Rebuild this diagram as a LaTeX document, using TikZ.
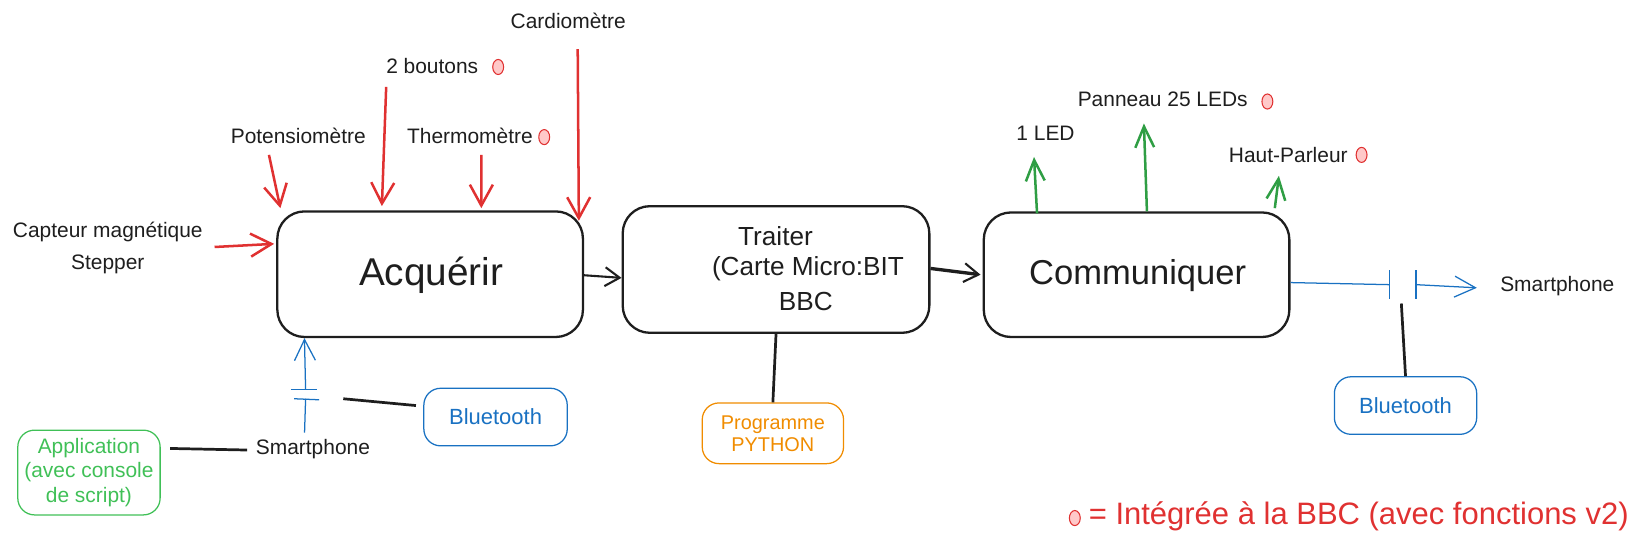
\documentclass[tikz,border=0pt]{standalone}
\usepackage{fontspec}
\setmainfont{Liberation Sans}
\usetikzlibrary{arrows.meta,calc,shapes.geometric}
\definecolor{xred}{HTML}{E03131}
\definecolor{xgreen}{HTML}{2F9E44}
\definecolor{xlgreen}{HTML}{40C057}
\definecolor{xblue}{HTML}{1971C2}
\definecolor{xorange}{HTML}{F08C00}
\definecolor{xpink}{HTML}{FFC9C9}
\definecolor{xink}{HTML}{1E1E1E}
\begin{document}
\begin{tikzpicture}[x=0.5pt,y=-0.5pt,
  bigbox/.style={draw=xink,line width=1.1pt,rounded corners=13pt,minimum width=146pt,minimum height=60pt,inner sep=0pt},
  smallbox/.style={draw,line width=0.6pt,rounded corners=8pt,align=center,inner sep=0pt},
  lbl/.style={font=\fontsize{10}{15}\selectfont,text=xink,inner sep=0pt,align=center},
  bigtxt/.style={font=\fontsize{17.5}{20}\selectfont,text=xink,inner sep=0pt},
  midtxt/.style={font=\fontsize{12.5}{14}\selectfont,text=xink,inner sep=0pt},
  dotmark/.style={ellipse,draw=xred,fill=xpink,line width=0.5pt,minimum width=5.2pt,minimum height=7.2pt,inner sep=0pt},
  redarr/.style={draw=xred,line width=1.2pt,-{Straight Barb[length=10pt,width=11pt,line width=1.2pt]}},
  grnarr/.style={draw=xgreen,line width=1.2pt,-{Straight Barb[length=10pt,width=9pt,line width=1.2pt]}},
  blkarr/.style={draw=xink,line width=1pt,-{Straight Barb[length=7pt,width=9pt,line width=1pt]}},
  bluarr/.style={draw=xblue,line width=0.6pt,-{Straight Barb[length=10pt,width=10pt,line width=0.6pt]}},
  bluline/.style={draw=xblue,line width=0.6pt},
  blkline/.style={draw=xink,line width=1.3pt}
]
\useasboundingbox (0,0) rectangle (1568,520);

% main boxes
\node[bigbox] (acq) at (411,262) {};
\node[bigtxt,font=\fontsize{18.5}{20}\selectfont] (acqt) at (412,263) {Acquérir};
\node[bigbox,minimum width=146.5pt,minimum height=60.5pt] (trt) at (741.5,257.5) {};
\node[midtxt] (trt1) at (741,226) {Traiter};
\node[midtxt] (trt2) at (772,257) {(Carte Micro:BIT};
\node[midtxt] (trt3) at (770,288) {BBC};
\node[bigbox,minimum height=59.5pt] (com) at (1086,262.5) {};
\node[bigtxt,font=\fontsize{16.5}{20}\selectfont] (comt) at (1087,263) {Communiquer};

% inputs
\node[lbl] (cardio) at (543,20) {Cardiomètre};
\coordinate (cardioS) at (552,47);
\draw[redarr] (cardioS) -- ($(acq.north east)+(-5,10)$);

\node[lbl] (bout) at (413,63) {2 boutons};
\node[dotmark] (dbout) at (476,64) {};
\coordinate (boutS) at (369,83);
\draw[redarr] (boutS) -- ($(acq.north west)+(101,-4)$);

\node[lbl] (poten) at (285,130) {Potensiomètre};
\coordinate (potenS) at (257,148);
\draw[redarr] (potenS) -- ($(acq.north west)+(4,-2)$);

\node[lbl] (thermo) at (449,130) {Thermomètre};
\node[dotmark] (dthermo) at (520,131) {};
\coordinate (thermoS) at (460,148);
\draw[redarr] (thermoS) -- ($(acq.north west)+(196,-2)$);

\node[lbl] (capt) at (103,237) {Capteur magnétique\\Stepper};
\coordinate (captS) at (205,236);
\draw[redarr] (captS) -- ($(acq.west)+(-2,-29)$);

% chain arrows
\draw[blkarr] ($(acq.east)+(0,1)$) -- ($(trt.west)+(0,8)$);
\draw[blkarr,line width=1.6pt] ($(trt.east)+(0,-1)$) -- ($(com.west)+(-2,0)$);

% outputs
\node[lbl] (led1) at (999,127) {1 LED};
\coordinate (led1S) at (988,150);
\draw[grnarr] ($(com.north west)+(52,2)$) -- (led1S);

\node[lbl] (pan) at (1111,95) {Panneau 25 LEDs};
\node[dotmark] (dpan) at (1211,97) {};
\coordinate (panS) at (1093,118);
\draw[grnarr] ($(com.north west)+(157,0)$) -- (panS);

\node[lbl] (hp) at (1231,148) {Haut-Parleur};
\node[dotmark] (dhp) at (1301,148) {};
\coordinate (hpS) at (1222,168);
\draw[grnarr] ($(com.north east)+(-15,-3)$) -- (hpS);

% right smartphone via bluetooth
\coordinate (capL) at (1328,272);
\coordinate (capR) at (1353,272);
\draw[bluline] ($(com.east)+(0,7.5)$) -- (capL);
\draw[bluline] (1328,258) -- (1328,286);
\draw[bluline] (1353,258) -- (1353,286);
\node[lbl] (sm1) at (1488,273) {Smartphone};
\draw[bluarr] (capR) -- ($(sm1.west)+(-22,2)$);
\node[smallbox,draw=xblue,text=xblue,font=\fontsize{10.5}{12}\selectfont,minimum width=68pt,minimum height=27.5pt] (bt2) at (1343,387.5) {Bluetooth};
\coordinate (capB) at (1339,290);
\draw[blkline] (capB) -- (bt2.north);

% python
\node[smallbox,draw=xorange,text=xorange,font=\fontsize{9.5}{10.5}\selectfont,minimum width=67.5pt,minimum height=29pt] (py) at (738.5,414) {Programme\\PYTHON};
\draw[blkline] (trt.south) -- (py.north);

% left smartphone
\node[lbl] (sm2) at (299,429) {Smartphone};
\coordinate (plB) at (292,381);
\coordinate (plT) at (292,372);
\draw[bluline] ($(sm2.north)+(-8,-6)$) -- (plB);
\draw[bluline] (281,381) -- (305,382);
\draw[bluline] (278,372) -- (303,372);
\draw[bluarr] (plT) -- ($(acq.south west)+(27,0)$);
\node[smallbox,draw=xblue,text=xblue,font=\fontsize{10.5}{12}\selectfont,minimum width=68.5pt,minimum height=27.5pt] (bt1) at (473.5,398.5) {Bluetooth};
\coordinate (btL) at (328,381);
\draw[blkline] (btL) -- ($(bt1.west)+(-7,-11)$);
\node[smallbox,draw=xlgreen,text=xlgreen,font=\fontsize{10}{11.75}\selectfont,minimum width=68pt,minimum height=40.5pt] (app) at (85,451.5) {Application\\(avec console\\de script)};
\draw[blkline] ($(app.east)+(9,-23)$) -- ($(sm2.west)+(-8,1)$);

% legend
\node[dotmark] (dleg) at (1027,495) {};
\node[anchor=west,inner sep=0pt,text=xred,font=\fontsize{14.8}{16}\selectfont] (leg) at (1040,493) {= Intégrée à la BBC (avec fonctions v2)};
\end{tikzpicture}
\end{document}
